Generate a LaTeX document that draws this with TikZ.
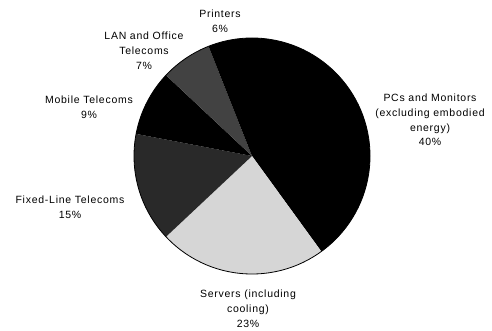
\documentclass[tikz,border=0pt]{standalone}
\usepackage{fontspec}
\setmainfont{Liberation Sans}[LetterSpace=7]
\definecolor{lanabu}{gray}{0.26}
\definecolor{fixabu}{gray}{0.16}
\definecolor{srvabu}{gray}{0.84}
\begin{document}
\begin{tikzpicture}[x=1pt,y=-1pt,
      label/.style={align=center,inner sep=0pt,
        font=\fontsize{10.5}{14.8}\selectfont},
      rand/.style={line width=0.8pt}]
    \useasboundingbox (0,0) rectangle (492,331);

    % Kue: irisan searah jarum jam dari atas
    \coordinate (c) at (252,156);
    \fill[black]  (c) -- ++(90:118pt) arc[start angle=90,end angle=-54,radius=118pt] -- cycle;
    \fill[srvabu] (c) -- ++(-54:118pt) arc[start angle=-54,end angle=-136.8,radius=118pt] -- cycle;
    \fill[fixabu] (c) -- ++(-136.8:118pt) arc[start angle=-136.8,end angle=-190.8,radius=118pt] -- cycle;
    \fill[black]  (c) -- ++(-190.8:118pt) arc[start angle=-190.8,end angle=-223.2,radius=118pt] -- cycle;
    \fill[lanabu] (c) -- ++(-223.2:118pt) arc[start angle=-223.2,end angle=-248.4,radius=118pt] -- cycle;
    \fill[black]  (c) -- ++(-248.4:118pt) arc[start angle=-248.4,end angle=-270,radius=118pt] -- cycle;
    \draw[rand] (c) circle[radius=118pt];

    % Label
    \node[label] (pcs) at (430,120) {PCs and Monitors\\(excluding embodied\\energy)\\40\%};
    \node[label] (srv) at (248,309) {Servers (including\\cooling)\\23\%};
    \node[label] (fix) at (70,207) {Fixed-Line Telecoms\\15\%};
    \node[label] (mob) at (89,107) {Mobile Telecoms\\9\%};
    \node[label] (lan) at (144,51) {LAN and Office\\Telecoms\\7\%};
    \node[label] (prn) at (220,21) {Printers\\6\%};
  \end{tikzpicture}
\end{document}
